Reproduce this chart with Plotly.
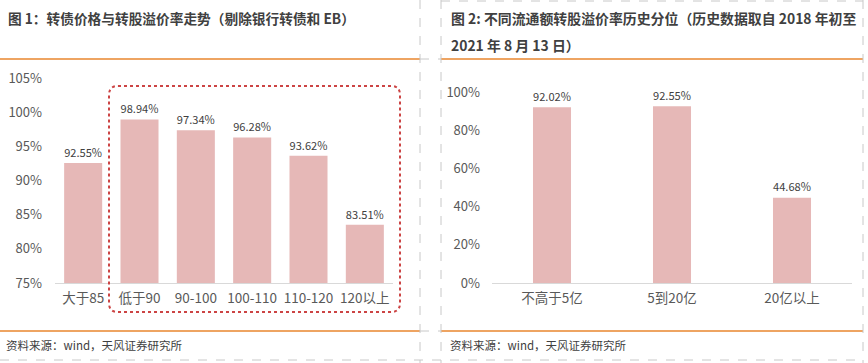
import plotly.graph_objects as go

W, H = 868, 363

# Data
left_cats = ["大于85", "低于90", "90-100", "100-110", "110-120", "120以上"]
left_vals = [0.9255, 0.9894, 0.9734, 0.9628, 0.9362, 0.8351]
left_ticks = [0.75, 0.80, 0.85, 0.90, 0.95, 1.00, 1.05]

right_cats = ["不高于5亿", "5到20亿", "20亿以上"]
right_vals = [0.9202, 0.9255, 0.4468]
right_ticks = [0.0, 0.2, 0.4, 0.6, 0.8, 1.0]

title1 = "图 1：转债价格与转股溢价率走势（剔除银行转债和 EB）"
title2a = "图 2: 不同流通额转股溢价率历史分位（历史数据取自 2018 年初至"
title2b = "2021 年 8 月 13 日）"
source = "资料来源：wind，天风证券研究所"

FONT = "Noto Sans CJK SC"
BAR = "#E6B8B7"
ORANGE = "#E8862E"
GRID = "#C8C8C8"
TXT = "#404040"
TICK = "#595959"


def px(x):
    return x / W


def py(y):
    return 1 - y / H


fig = go.Figure()
fig.add_trace(go.Bar(
    x=left_cats, y=left_vals, marker_color=BAR, marker_line_width=0,
    text=[f"{v*100:.2f}%" for v in left_vals], textposition="outside",
    textfont=dict(size=14, color=TXT, family=FONT), cliponaxis=False,
    xaxis="x", yaxis="y", showlegend=False, width=0.675, hoverinfo="skip",
))
fig.add_trace(go.Bar(
    x=right_cats, y=right_vals, marker_color=BAR, marker_line_width=0,
    text=[f"{v*100:.2f}%" for v in right_vals], textposition="outside",
    textfont=dict(size=13.5, color=TXT, family=FONT), cliponaxis=False,
    xaxis="x2", yaxis="y2", showlegend=False, width=0.317, hoverinfo="skip",
))

axcommon = dict(showgrid=False, zeroline=False, fixedrange=True, automargin=False)
fig.update_layout(
    width=W, height=H,
    margin=dict(l=0, r=0, t=0, b=0, autoexpand=False),
    paper_bgcolor="white", plot_bgcolor="white",
    font=dict(family=FONT, color=TXT),
    xaxis=dict(domain=[px(55), px(393)], showline=True, linecolor="#D9D9D9", linewidth=1,
               ticks="", tickfont=dict(size=13.5, color=TICK), anchor="y",
               ticklabelstandoff=3, **axcommon),
    yaxis=dict(domain=[py(283), py(78)], range=[0.75, 1.05], tickvals=left_ticks,
               ticktext=[f"{int(round(t*100))}%" for t in left_ticks], showline=False,
               tickfont=dict(size=13, color=TICK), anchor="x", ticklabelstandoff=12,
               **axcommon),
    xaxis2=dict(domain=[px(492), px(852)], showline=True, linecolor="#D9D9D9", linewidth=1,
                ticks="", tickfont=dict(size=13.5, color=TICK), anchor="y2",
                ticklabelstandoff=3, **axcommon),
    yaxis2=dict(domain=[py(283), py(92)], range=[0, 1.0], tickvals=right_ticks,
                ticktext=[f"{int(round(t*100))}%" for t in right_ticks], showline=False,
                tickfont=dict(size=13, color=TICK), anchor="x2", ticklabelstandoff=11,
                **axcommon),
)

shapes = []


def line(x0, y0, x1, y1, color, width=1, dash="solid"):
    shapes.append(dict(type="line", xref="paper", yref="paper",
                       x0=px(x0), y0=py(y0), x1=px(x1), y1=py(y1),
                       line=dict(color=color, width=width, dash=dash)))


# frame lines
line(0, 59, 420, 59, ORANGE, 1.5)
line(441, 59, 863, 59, ORANGE, 1.5)
line(0, 331, 420, 331, ORANGE, 1.5)
line(441, 331, 863, 331, ORANGE, 1.5)
line(420, 59, 441, 59, GRID, 1, "dash")
line(420, 331, 441, 331, GRID, 1, "dash")
line(441, 1, 863, 1, GRID, 1, "dash")
line(0, 360, 863, 360, GRID, 1, "dash")
line(420, 0, 420, 363, GRID, 1, "dash")
line(441, 0, 441, 363, GRID, 1, "dash")
line(863, 0, 863, 363, GRID, 1, "dash")

# dotted rounded rectangle
x0, x1, y0, y1, r = 109, 400, 86, 312, 9
path = (f"M {px(x0+r)},{py(y0)} L {px(x1-r)},{py(y0)} Q {px(x1)},{py(y0)} {px(x1)},{py(y0+r)} "
        f"L {px(x1)},{py(y1-r)} Q {px(x1)},{py(y1)} {px(x1-r)},{py(y1)} "
        f"L {px(x0+r)},{py(y1)} Q {px(x0)},{py(y1)} {px(x0)},{py(y1-r)} "
        f"L {px(x0)},{py(y0+r)} Q {px(x0)},{py(y0)} {px(x0+r)},{py(y0)} Z")
shapes.append(dict(type="path", xref="paper", yref="paper", path=path,
                   line=dict(color="#CC4444", width=2, dash="dot")))
fig.update_layout(shapes=shapes)

ann = []


def text(x, y, s, size, bold=False, color=TXT):
    ann.append(dict(xref="paper", yref="paper", x=px(x), y=py(y), xanchor="left",
                    yanchor="middle", showarrow=False,
                    text=f"<b>{s}</b>" if bold else s,
                    font=dict(size=size, color=color, family=FONT)))


text(6, 18, title1, 13.7, True)
text(449, 18, title2a, 13.9, True)
text(449, 45, title2b, 13.9, True)
text(4, 345, source, 11.5, False)
text(448, 345, source, 11.5, False)
fig.update_layout(annotations=ann)

fig.write_html("out.html", config={"displayModeBar": False, "staticPlot": True},
               post_script="document.body.style.margin='0';document.body.style.overflow='hidden';")
